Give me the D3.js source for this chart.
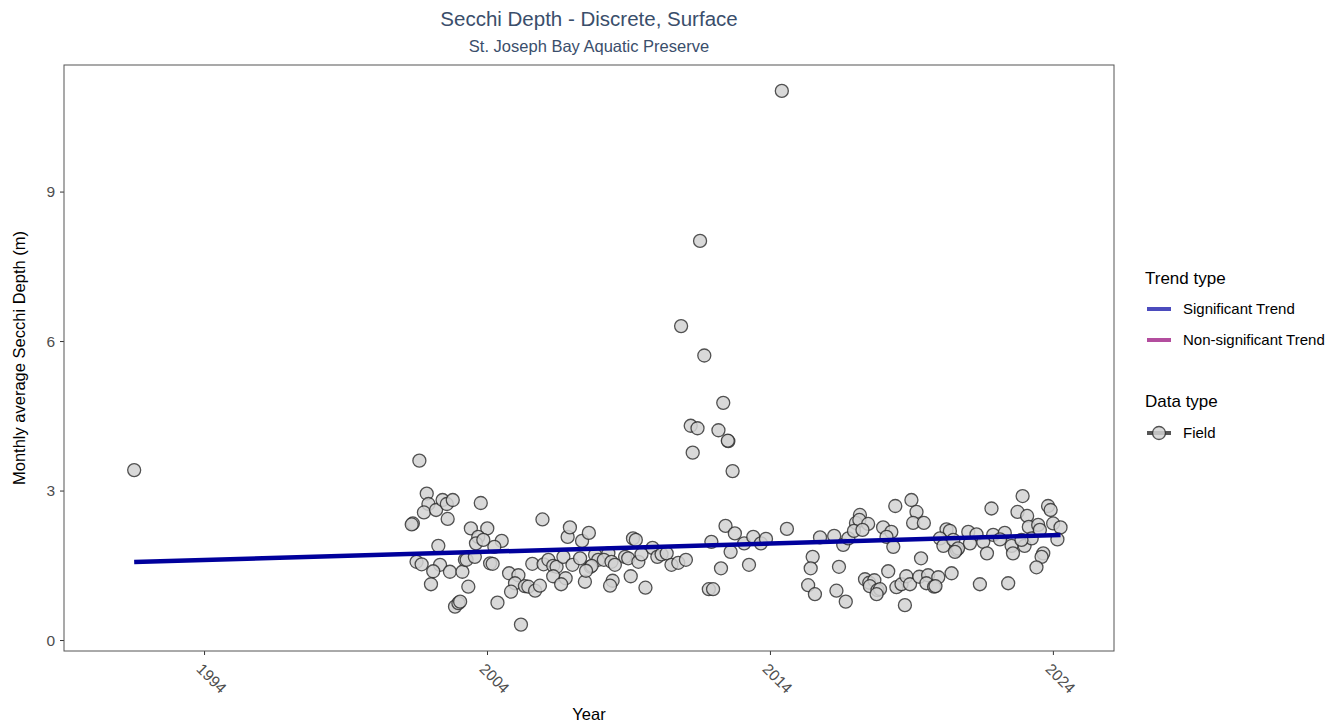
<!DOCTYPE html>
<html>
<head>
<meta charset="utf-8">
<script src="https://cdn.jsdelivr.net/npm/d3@7"></script>
<style>
  body { margin: 0; background: #fff; }
  text { font-family: "Liberation Sans", Arial, sans-serif; }
</style>
</head>
<body>
<div id="container"></div>
<script>
// chart data: decimal year and monthly average Secchi depth (m)
var years = [1991.53,
  2001.61, 2001.87, 2001.93, 2001.77, 2002.20, 2002.43, 2002.58, 2002.79, 2002.61, 2001.38, 2001.34,
  2003.78, 2003.43, 2004.01, 2003.69, 2003.61, 2003.87, 2004.52, 2004.26, 2002.28, 2001.51, 2001.69,
  2002.34, 2002.10, 2002.69, 2003.13, 2003.22, 2003.28, 2003.57, 2002.02, 2003.34, 2004.11, 2004.20,
  2002.87, 2002.99, 2003.05, 2004.37, 2005.20, 2004.78, 2005.11, 2004.99, 2004.85, 2005.34, 2005.46,
  2005.70, 2005.87, 2005.60, 2005.96, 2006.00, 2006.17, 2006.34, 2006.46, 2006.34, 2006.70, 2006.78,
  2006.62, 2007.02, 2006.85, 2006.93, 2007.36, 2007.60, 2007.29, 2007.82, 2007.93, 2007.66, 2007.46,
  2011.27, 2012.53, 2012.68, 2009.16, 2009.26, 2008.29, 2008.13, 2008.40, 2008.52, 2007.70, 2007.50,
  2008.44, 2008.35, 2009.08, 2009.60, 2008.88, 2008.99, 2009.35, 2009.46, 2009.85, 2010.02, 2010.17,
  2010.35, 2010.52, 2010.76, 2011.03, 2011.93, 2012.43, 2012.76, 2012.61, 2012.27, 2011.84, 2011.99,
  2013.09, 2013.41, 2013.68, 2013.86, 2013.26,
  2011.53, 2010.86, 2011.68, 2012.35, 2011.20, 2011.44, 2012.18, 2012.51, 2014.42, 2014.60,
  2015.77, 2016.27, 2016.59, 2016.77, 2015.51, 2015.44, 2015.35, 2015.59, 2016.35, 2016.68, 2016.44,
  2017.18, 2017.04, 2017.16, 2017.47, 2016.97, 2017.27, 2018.43, 2018.00, 2018.29, 2018.12, 2018.36,
  2019.00, 2019.18, 2019.06, 2019.44, 2019.34, 2018.18, 2017.36, 2017.51, 2017.69, 2017.53, 2017.80,
  2017.89, 2017.77, 2018.47, 2018.65, 2018.82, 2018.95, 2018.77, 2019.28, 2019.59, 2019.95, 2019.53,
  2019.80, 2019.85, 2020.42, 2020.24, 2020.36, 2020.01, 2020.13, 2020.60, 2020.48,
  2022.93, 2021.83, 2022.75, 2023.09, 2023.83, 2023.92, 2023.15, 2023.48, 2024.01, 2024.27, 2024.16,
  2021.01, 2021.30, 2021.89, 2022.30, 2020.65, 2020.54, 2021.07, 2021.54, 2022.13, 2022.54, 2021.67,
  2022.59, 2023.00, 2023.66, 2023.60, 2023.42, 2021.42, 2022.42, 2023.25, 2023.54, 2022.89];

var depths = [3.41,
  3.60, 2.94, 2.73, 2.56, 2.61, 2.81, 2.73, 2.81, 2.43, 2.34, 2.32,
  2.75, 2.24, 2.24, 2.07, 1.94, 2.01, 1.99, 1.87, 1.89, 1.57, 1.52,
  1.51, 1.38, 1.37, 1.37, 1.61, 1.61, 1.67, 1.12, 1.07, 1.54, 1.53,
  0.67, 0.74, 0.77, 0.75, 0.31, 1.34, 1.30, 1.14, 0.97, 1.08, 1.07,
  0.99, 1.09, 1.53, 2.42, 1.52, 1.61, 1.49, 1.47, 1.28, 1.67, 1.24,
  1.12, 1.51, 2.07, 2.26, 1.99, 2.15, 1.64, 1.71, 1.61, 1.47, 1.17,
  3.76, 3.99, 3.39, 2.04, 2.01, 1.74, 1.61, 1.57, 1.51, 1.49, 1.39,
  1.19, 1.09, 1.28, 1.05, 1.67, 1.64, 1.57, 1.72, 1.85, 1.67, 1.72,
  1.74, 1.51, 1.55, 1.61, 1.97, 2.29, 2.14, 1.77, 1.44, 1.02, 1.02,
  1.94, 2.07, 1.94, 2.03, 1.51,
  8.01, 6.30, 5.71, 4.76, 4.30, 4.25, 4.21, 4.00, 11.02, 2.23,
  2.06, 2.09, 1.91, 2.04, 1.67, 1.44, 1.10, 0.92, 0.99, 0.77, 1.47,
  2.51, 2.35, 2.41, 2.33, 2.19, 2.21, 2.69, 2.26, 2.17, 2.07, 1.87,
  2.81, 2.57, 2.35, 2.35, 1.64, 1.38, 1.22, 1.15, 1.20, 1.08, 1.00,
  1.02, 0.92, 1.06, 1.12, 1.28, 1.12, 0.70, 1.27, 1.30, 1.26, 1.14,
  1.07, 1.08, 1.34, 2.22, 2.19, 2.04, 1.89, 1.81, 2.01,
  2.89, 2.64, 2.57, 2.49, 2.69, 2.61, 2.27, 2.31, 2.34, 2.26, 2.02,
  2.17, 2.12, 2.11, 2.15, 1.84, 1.77, 1.94, 1.97, 2.02, 1.89, 1.74,
  1.74, 1.89, 1.74, 1.67, 1.46, 1.12, 1.14, 2.04, 2.21, 2.01];

// fitted trend (start / end)
var trendYears = [1991.53, 2024.27];
var trendValues = [1.565, 2.107];

var yTicks = [0, 3, 6, 9];
var xTicks = [1994, 2004, 2014, 2024];
var trendLabels = ["Significant Trend", "Non-significant Trend"];
var trendColors = ["#4b4bbd", "#b34d9e"];
var dataLabels = ["Field"];

// width and height
var width = 1331;
var height = 723;
var margin = {top: 65, right: 217, bottom: 72, left: 64};
var pw = width - margin.left - margin.right;
var ph = height - margin.top - margin.bottom;

var svg = d3.select("#container")
  .append("svg")
  .attr("width", width)
  .attr("height", height);

var x = d3.scaleLinear().domain([1989.05, 2026.16]).range([0, pw]);
var y = d3.scaleLinear().domain([-0.22, 11.54]).range([ph, 0]);

var g = svg.append("g")
  .attr("transform", "translate(" + margin.left + "," + margin.top + ")");

// titles
svg.append("text")
  .attr("x", margin.left + pw / 2).attr("y", 26)
  .attr("text-anchor", "middle")
  .style("font-size", "20.5px").style("fill", "#3a4e6b")
  .text("Secchi Depth - Discrete, Surface");
svg.append("text")
  .attr("x", margin.left + pw / 2).attr("y", 52)
  .attr("text-anchor", "middle")
  .style("font-size", "16.5px").style("fill", "#3a4e6b")
  .text("St. Joseph Bay Aquatic Preserve");

// axes
var yAxis = g.append("g")
  .call(d3.axisLeft(y).tickValues(yTicks).tickSize(4).tickPadding(5));
yAxis.select(".domain").remove();
yAxis.selectAll("line").attr("stroke", "#333");
yAxis.selectAll("text").style("font-size", "15.5px").style("fill", "#4d4d4d")
  .style("font-family", "Liberation Sans, Arial, sans-serif");

var xAxis = g.append("g")
  .attr("transform", "translate(0," + ph + ")")
  .call(d3.axisBottom(x).tickValues(xTicks).tickFormat(d3.format("d")).tickSize(4));
xAxis.select(".domain").remove();
xAxis.selectAll("line").attr("stroke", "#333");
xAxis.selectAll("text")
  .style("font-size", "15.5px").style("fill", "#4d4d4d")
  .style("font-family", "Liberation Sans, Arial, sans-serif")
  .attr("text-anchor", "start")
  .attr("dy", null)
  .attr("transform", "translate(-4,14) rotate(45)");

// axis titles
svg.append("text")
  .attr("x", margin.left + pw / 2).attr("y", 720)
  .attr("text-anchor", "middle")
  .style("font-size", "16.5px")
  .text("Year");
svg.append("text")
  .attr("transform", "translate(25," + (margin.top + ph / 2) + ") rotate(-90)")
  .attr("text-anchor", "middle")
  .style("font-size", "16.5px")
  .text("Monthly average Secchi Depth (m)");

// points
g.selectAll(".pt")
  .data(years)
  .enter().append("circle")
  .attr("class", "pt")
  .attr("cx", function(d) { return x(d); })
  .attr("cy", function(d, i) { return y(depths[i]); })
  .attr("r", 6.5)
  .attr("fill", "#d3d3d3")
  .attr("stroke", "#333")
  .attr("stroke-width", 1.3)
  .attr("opacity", 0.85);

// trend line
g.append("line")
  .attr("x1", x(trendYears[0])).attr("y1", y(trendValues[0]))
  .attr("x2", x(trendYears[1])).attr("y2", y(trendValues[1]))
  .attr("stroke", "#00009c")
  .attr("stroke-width", 4.5);

// panel border
g.append("rect")
  .attr("width", pw).attr("height", ph)
  .attr("fill", "none").attr("stroke", "#555").attr("stroke-width", 1);

// legend
var lg = svg.append("g").attr("transform", "translate(1145,0)");
lg.append("text").attr("x", 0).attr("y", 284).style("font-size", "17px").text("Trend type");
trendLabels.forEach(function(t, i) {
  var yy = 309 + i * 31;
  lg.append("line").attr("x1", 2).attr("x2", 26).attr("y1", yy).attr("y2", yy)
    .attr("stroke", trendColors[i]).attr("stroke-width", 4);
  lg.append("text").attr("x", 38).attr("y", yy + 5).style("font-size", "15px").text(t);
});
lg.append("text").attr("x", 0).attr("y", 407).style("font-size", "17px").text("Data type");
dataLabels.forEach(function(t, i) {
  var yy = 433 + i * 31;
  lg.append("line").attr("x1", 2).attr("x2", 26).attr("y1", yy).attr("y2", yy)
    .attr("stroke", "#444").attr("stroke-width", 4).attr("opacity", 0.9);
  lg.append("circle").attr("cx", 14).attr("cy", yy).attr("r", 6.5)
    .attr("fill", "#d3d3d3").attr("stroke", "#333").attr("stroke-width", 1.3).attr("opacity", 0.85);
  lg.append("text").attr("x", 38).attr("y", yy + 5).style("font-size", "15px").text(t);
});
</script>
</body>
</html>
